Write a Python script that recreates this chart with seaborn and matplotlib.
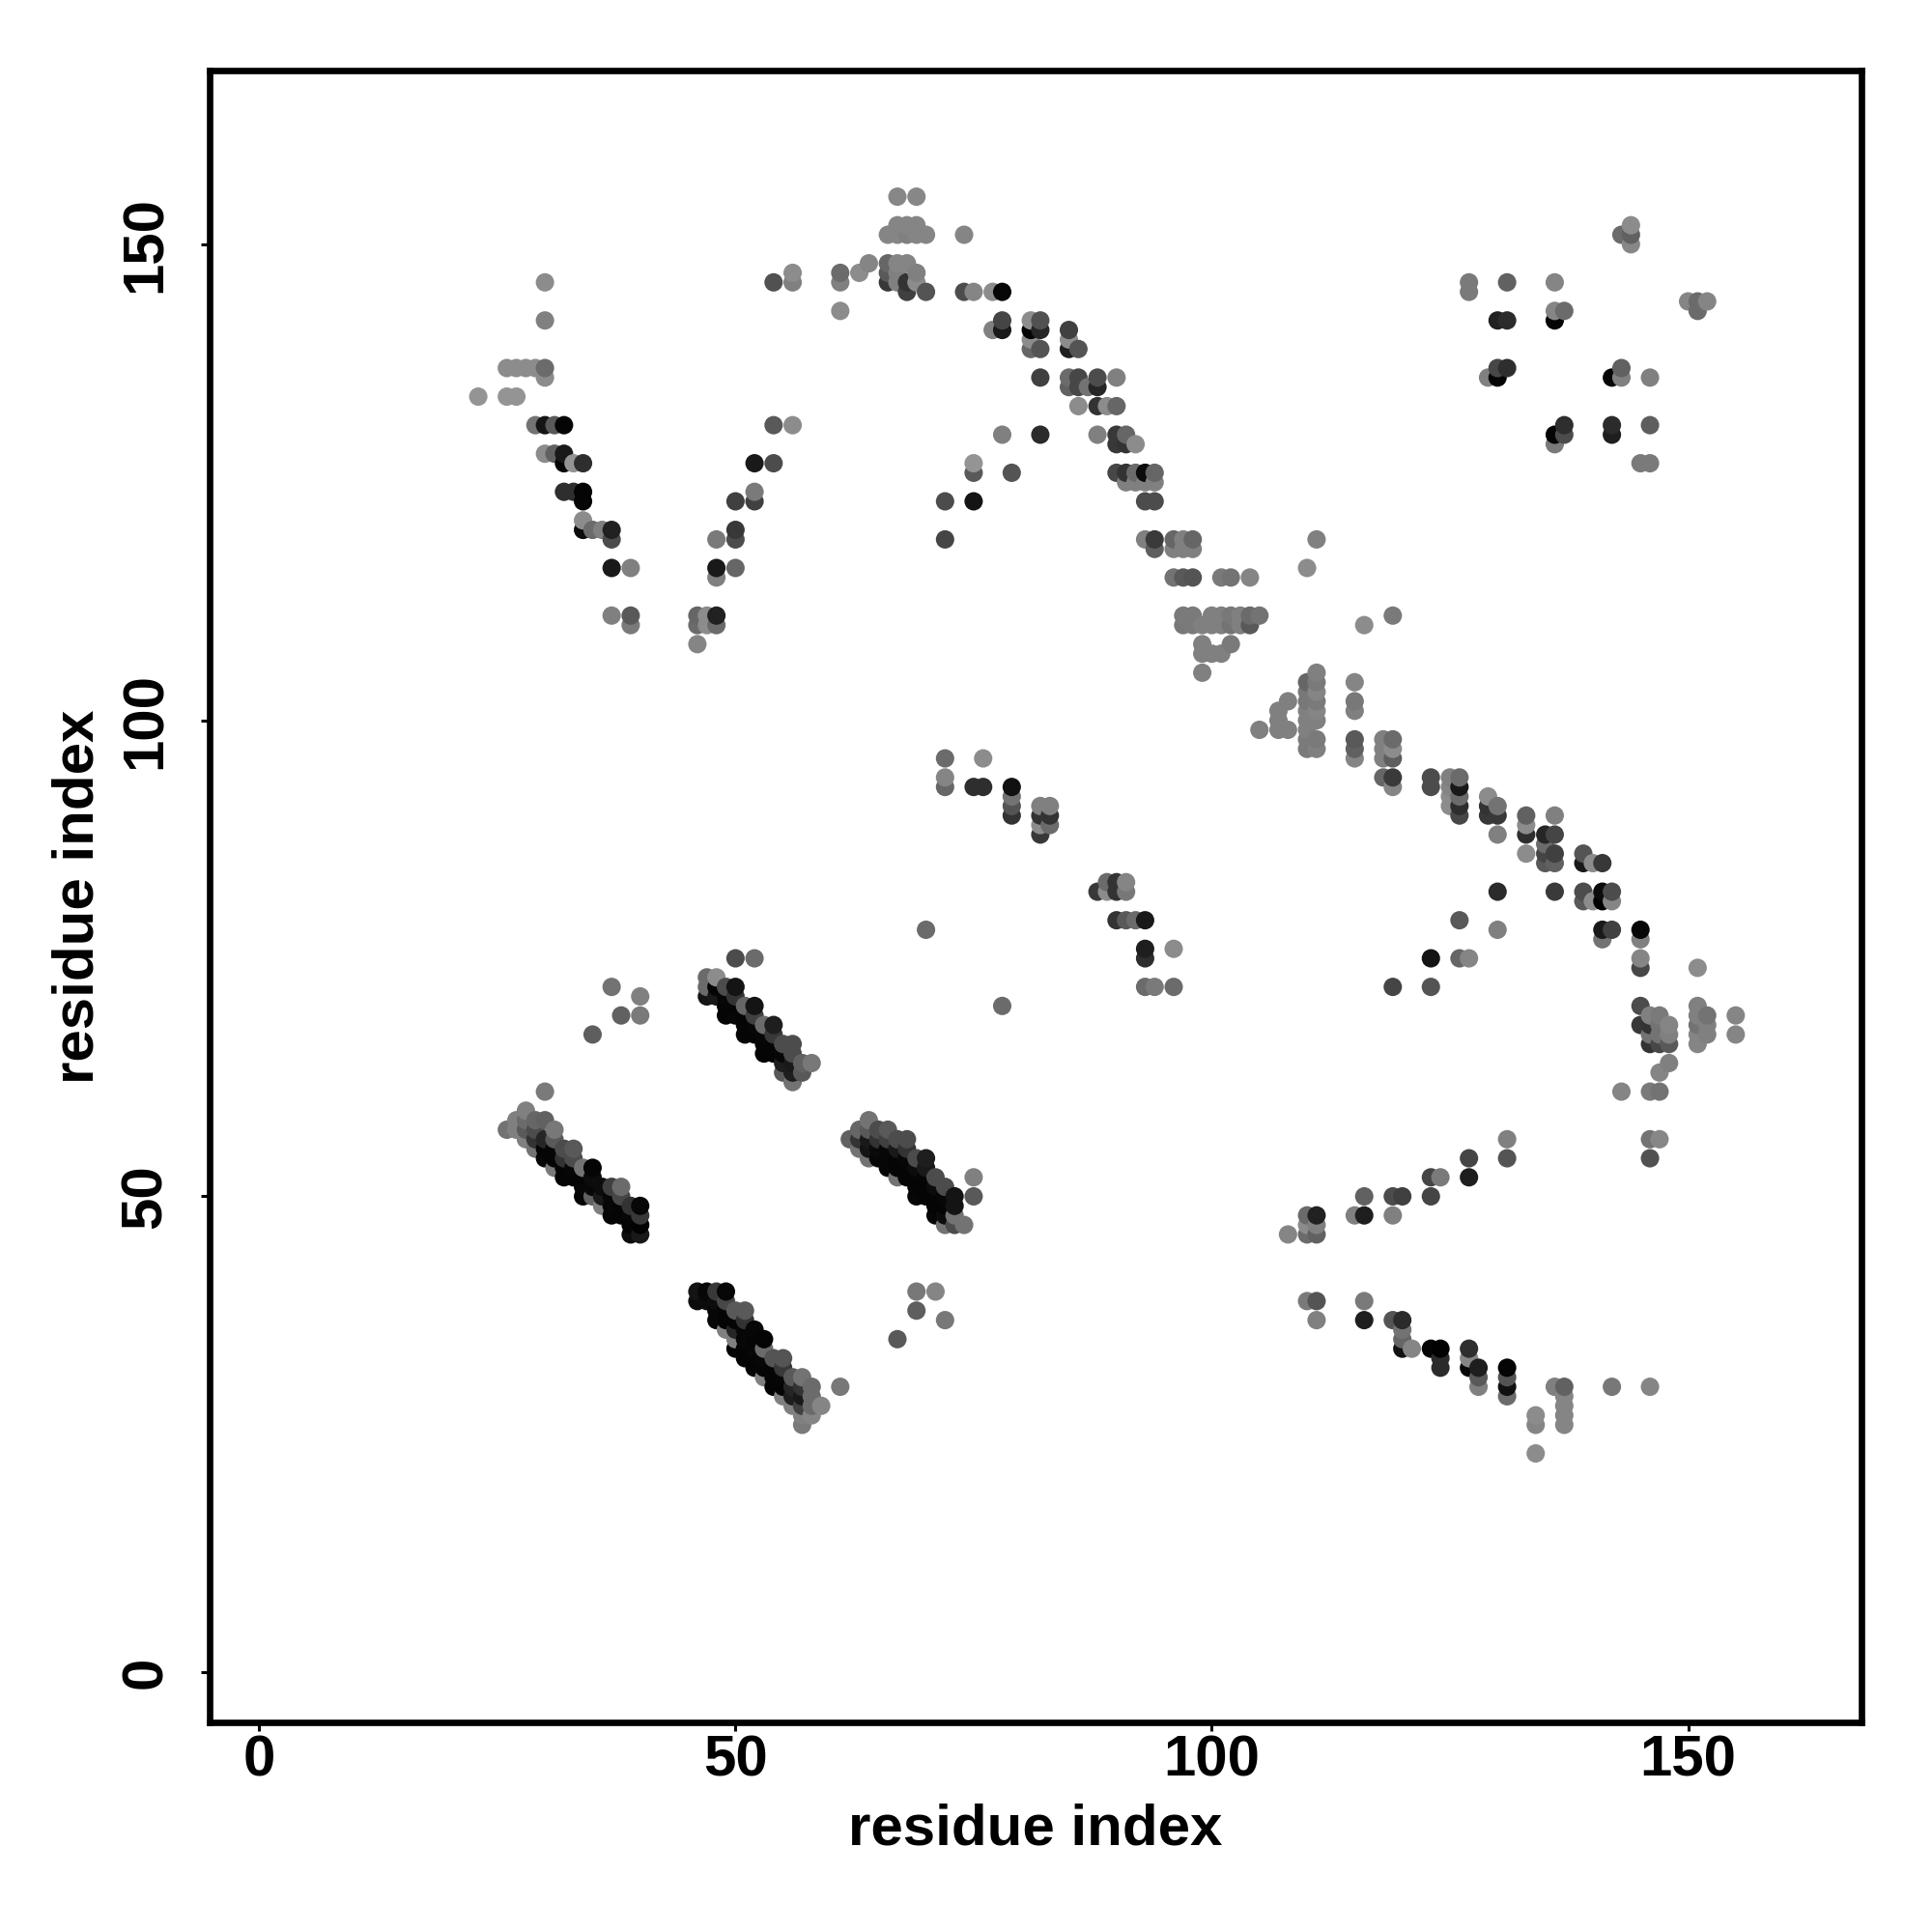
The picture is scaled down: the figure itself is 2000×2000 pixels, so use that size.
"""contact map, residue index vs residue index"""
import pandas as pd
import seaborn as sns
import matplotlib.pyplot as plt

# (residue x, residue y, grey level)
arm_left = [
    (23,134,.58),(26,137,.55),(27,137,.55),(28,137,.55),(29,137,.55),(30,137,.42),(30,136,.55),
    (30,146,.55),(30,142,.5),(26,134,.58),(27,134,.58),
    (29,131,.45),(30,131,.08),(31,131,.35),(32,131,.02),
    (30,128,.55),(31,128,.38),(32,128,.1),(32,127,.02),(33,127,.58),(34,127,.18),
    (32,124,.18),(33,124,.18),(34,124,.02),(34,123,.02),(34,121,.55),(34,120,.05),
    (35,120,.42),(36,120,.5),(37,120,.13),(37,119,.3),(37,116,.1),(39,116,.5),
    (37,111,.5),(39,111,.35),(39,110,.48),
]
arm_right = [
    (46,111,.4),(47,111,.55),(48,111,.13),(46,110,.42),(47,110,.55),(48,110,.42),(46,108,.52),
    (48,115,.5),(48,116,.1),(50,116,.4),(48,119,.48),(50,119,.3),(50,120,.22),
    (50,123,.25),(52,123,.25),(52,124,.48),(52,127,.1),(54,127,.3),(54,131,.35),(56,131,.55),
    (54,146,.32),(56,146,.5),(56,147,.55),(61,146,.5),(61,147,.42),(61,143,.55),
    (63,147,.55),(64,148,.52),(72,123,.3),(72,119,.27),(75,123,.08),(75,126,.35),(75,127,.58),
    (79,126,.33),(78,130,.5),(82,130,.17),
]
top_peak = [
    (67,155,.53),(69,155,.53),(67,152,.52),(68,152,.52),(69,152,.52),
    (66,151,.52),(67,151,.52),(68,151,.5),(69,151,.52),(70,151,.52),(74,151,.52),
    (66,148,.4),(67,148,.52),(68,148,.52),(66,147,.35),(67,147,.5),(69,147,.5),
    (66,146,.22),(67,146,.5),(68,146,.2),(69,146,.55),(68,145,.25),(70,145,.33),
    (74,145,.3),(75,145,.52),(77,145,.55),(78,145,.03),
]
long_strand = [
    (78,142,.27),(81,142,.55),(82,142,.32),(77,141,.5),(78,141,.1),(81,141,.02),(82,141,.15),(85,141,.25),
    (81,140,.55),(85,140,.55),(81,139,.4),(82,139,.33),(85,139,.12),(86,139,.33),
    (82,136,.25),(85,136,.42),(86,136,.28),(88,136,.3),(90,136,.5),
    (85,135,.38),(86,135,.28),(87,135,.45),(88,135,.15),
    (86,133,.55),(88,133,.2),(89,133,.55),(90,133,.4),
    (88,130,.5),(90,130,.22),(91,130,.4),(90,129,.22),(91,129,.2),(92,129,.55),
    (90,126,.28),(91,126,.2),(92,126,.42),(93,126,.05),(94,126,.4),
    (91,125,.5),(92,125,.5),(93,125,.5),(94,125,.5),(93,123,.3),(94,123,.3),
    (93,119,.5),(94,119,.23),(96,119,.4),(97,119,.5),(98,119,.4),
    (94,118,.37),(96,118,.5),(97,118,.5),(98,118,.5),
    (96,115,.45),(97,115,.35),(98,115,.33),(101,115,.48),(102,115,.45),(104,115,.52),
    (97,111,.48),(98,111,.48),(100,111,.5),(101,111,.5),(102,111,.47),(103,111,.5),(104,111,.42),(105,111,.45),
    (97,110,.47),(98,110,.48),(99,110,.5),(100,110,.5),(101,110,.5),(102,110,.45),(103,110,.5),(104,110,.35),
    (99,108,.5),(102,108,.48),(99,107,.5),(100,107,.5),(101,107,.5),(99,105,.5),
    (111,119,.5),(110,116,.55),(119,111,.48),(116,110,.55),
]
mid_strand = [
    (111,105,.5),(110,104,.4),(111,104,.48),(115,104,.52),(110,103,.47),(111,103,.52),
    (108,102,.5),(110,102,.47),(111,102,.48),(115,102,.47),(107,101,.5),(110,101,.5),(111,101,.52),(115,101,.5),
    (107,100,.5),(110,100,.5),(111,100,.5),(105,99,.5),(107,99,.5),(108,99,.5),(110,99,.5),
    (110,98,.48),(111,98,.48),(115,98,.35),(118,98,.5),(119,98,.42),
    (110,97,.48),(111,97,.5),(115,97,.38),(118,97,.5),(119,97,.55),(115,96,.52),(118,96,.5),(119,96,.37),
    (118,94,.4),(119,94,.23),(123,94,.3),(125,94,.5),(126,94,.42),(119,93,.52),(123,93,.3),(125,93,.52),(126,93,.1),
    (125,92,.55),(126,92,.42),(129,92,.55),(125,91,.55),(126,91,.18),(129,91,.2),(130,91,.45),
    (126,90,.28),(129,90,.22),(130,90,.22),(133,90,.38),(136,90,.5),(133,89,.55),
    (130,88,.5),(133,88,.18),(135,88,.15),(136,88,.27),(135,87,.42),
    (133,86,.55),(135,86,.27),(136,86,.25),(139,86,.33),
    (135,85,.35),(136,85,.38),(139,85,.1),(140,85,.55),(141,85,.22),
    (130,82,.17),(136,82,.23),(139,82,.3),(141,82,.05),(142,82,.3),
    (139,81,.35),(140,81,.55),(141,81,.0),(142,81,.52),
    (126,79,.35),(130,78,.5),(141,78,.1),(142,78,.25),(145,78,.03),(141,77,.45),(145,77,.5),
    (123,75,.08),(126,75,.4),(127,75,.52),(145,75,.52),(145,74,.28),(151,74,.55),(119,72,.27),(123,72,.33),
]
cluster_low_right = [
    (145,70,.3),(145,68,.22),(146,69,.5),(147,69,.48),(146,68,.2),(147,68,.45),(148,68,.52),
    (146,67,.45),(147,67,.45),(148,67,.5),(146,66,.2),(147,66,.28),(148,66,.35),
    (148,64,.5),(147,63,.52),(143,61,.52),(146,61,.48),(147,61,.45),
    (151,70,.5),(151,69,.5),(152,69,.45),(151,68,.45),(152,68,.5),(151,67,.52),(152,67,.5),(151,66,.52),
    (155,69,.52),(155,67,.52),
]
low_arcs = [
    (131,56,.5),(146,56,.45),(147,56,.53),(127,54,.27),(131,54,.33),(146,54,.32),
    (123,52,.27),(124,52,.48),(127,52,.12),(116,50,.38),(119,50,.3),(120,50,.25),(123,50,.27),
    (110,48,.42),(111,48,.13),(115,48,.5),(116,48,.12),(119,48,.5),(110,47,.55),(111,47,.5),
    (108,46,.52),(110,46,.42),(111,46,.38),
    (110,39,.48),(111,39,.33),(116,39,.48),(111,37,.5),(116,37,.12),(119,37,.33),(120,37,.17),
    (120,36,.45),(120,35,.4),(120,34,.07),(121,34,.52),(123,34,.02),(124,34,.01),(124,33,.17),(124,32,.17),
    (127,34,.18),(127,33,.52),(127,32,.03),(128,32,.12),(128,31,.35),(128,30,.5),
    (131,32,.02),(131,31,.33),(131,30,.07),(131,29,.42),
    (136,30,.5),(137,30,.38),(137,29,.52),(137,28,.52),(137,27,.52),(137,26,.52),
    (134,27,.55),(134,26,.52),(134,23,.55),(142,30,.47),(146,30,.52),
]
top_right = [
    (127,146,.48),(127,145,.48),(131,146,.38),(136,146,.52),(136,143,.52),(137,143,.42),(136,142,.02),
    (130,142,.13),(131,142,.17),(129,136,.5),(130,136,.02),(130,137,.28),(131,137,.18),
    (142,136,.02),(143,136,.5),(143,137,.38),(146,136,.5),
    (143,151,.42),(144,150,.53),(144,151,.38),(144,152,.55),
    (150,144,.52),(151,144,.42),(152,144,.52),(151,143,.42),
    (137,131,.18),(136,130,.02),(137,130,.3),(136,129,.48),(142,131,.17),(142,130,.12),(146,131,.37),
    (145,127,.48),(146,127,.48),
]
middle_patch = [
    (72,96,.42),(76,96,.55),(72,94,.52),(72,93,.4),(75,93,.18),(76,93,.18),
    (79,93,.07),(79,92,.45),(79,91,.33),(79,90,.2),(82,91,.5),(83,91,.5),(82,90,.2),(83,90,.2),
    (82,89,.55),(83,89,.42),(82,88,.22),
    (88,82,.22),(89,83,.42),(89,82,.55),(90,83,.2),(90,82,.2),(91,83,.52),(91,82,.47),
    (90,79,.2),(91,79,.35),(92,79,.42),(93,79,.1),(93,76,.12),(93,75,.18),(96,76,.55),
    (93,72,.42),(94,72,.48),(96,72,.42),(70,78,.42),(78,70,.42),
]
diag_a = [
    (26,57,.45),(27,58,.5),(27,57,.5),(28,59,.5),(28,58,.42),(28,57,.35),(28,56,.5),(29,58,.4),(29,57,.3),(29,56,.2),(29,55,.45),
    (30,58,.38),(30,56,.15),(30,55,.02),(30,54,.03),(31,57,.47),(31,56,.35),(31,55,.02),(31,54,.02),(31,53,.48),
    (32,55,.3),(32,54,.2),(32,53,.02),(32,52,.02),(33,55,.35),(33,54,.3),(33,53,.03),(33,52,.02),
    (34,53,.45),(34,52,.02),(34,51,.03),(34,50,.02),(35,53,.02),(35,52,.05),(35,51,.03),(35,50,.38),
    (36,51,.05),(36,50,.1),(36,49,.5),(37,51,.25),(37,50,.03),(37,49,.03),(37,48,.02),
    (38,51,.42),(38,50,.28),(38,49,.02),(38,48,.02),(39,49,.2),(39,48,.03),(39,47,.02),(39,46,.05),
    (40,49,.03),(40,48,.22),(40,47,.01),(40,46,.1),
]
diag_b = [
    (46,40,.08),(47,40,.03),(48,40,.22),(49,40,.03),(46,39,.05),(47,39,.05),(48,39,.05),(49,39,.28),
    (48,38,.03),(49,38,.02),(50,38,.35),(51,38,.35),(48,37,.03),(49,37,.02),(50,37,.02),(51,37,.2),
    (49,36,.5),(50,36,.15),(51,36,.03),(52,36,.03),(50,35,.5),(51,35,.03),(52,35,.02),(53,35,.02),
    (50,34,.02),(51,34,.02),(52,34,.03),(53,34,.42),(51,33,.02),(52,33,.02),(53,33,.03),(54,33,.33),(55,33,.33),
    (52,32,.02),(53,32,.02),(54,32,.02),(55,32,.22),(53,31,.5),(54,31,.02),(55,31,.03),(56,31,.35),(57,31,.45),
    (54,30,.02),(55,30,.02),(56,30,.15),(57,30,.2),(58,30,.42),(61,30,.47),
    (55,29,.5),(56,29,.12),(57,29,.1),(58,29,.42),(56,28,.5),(57,28,.25),(58,28,.42),(59,28,.52),
    (57,27,.5),(58,27,.52),(57,26,.48),
]
diag_c = [
    (47,73,.42),(48,73,.55),(47,72,.42),(47,71,.08),(48,72,.02),(49,72,.3),(50,72,.08),(48,71,.1),(49,71,.03),(50,71,.2),
    (49,70,.02),(50,70,.02),(51,70,.4),(52,70,.08),(49,69,.02),(50,69,.03),(51,69,.02),(52,69,.25),
    (51,68,.02),(52,68,.03),(53,68,.42),(54,68,.12),(51,67,.02),(52,67,.02),(53,67,.03),(54,67,.22),
    (53,66,.02),(54,66,.02),(55,66,.3),(56,66,.3),(53,65,.02),(54,65,.02),(55,65,.03),(56,65,.3),
    (55,64,.12),(56,64,.1),(57,64,.38),(58,64,.47),(55,63,.35),(56,63,.12),(57,63,.35),(56,62,.45),
    (50,75,.3),(52,75,.42),
]
diag_d = [
    (62,56,.38),(63,57,.4),(63,56,.2),(63,55,.45),(64,58,.45),(64,57,.35),(64,56,.1),(64,55,.08),(64,54,.45),
    (65,57,.3),(65,56,.2),(65,55,.04),(65,54,.03),(66,57,.35),(66,56,.25),(66,55,.03),(66,54,.03),(66,53,.03),
    (67,56,.3),(67,55,.1),(67,54,.02),(67,53,.02),(67,52,.45),(68,56,.3),(68,55,.2),(68,54,.03),(68,53,.02),(68,52,.02),
    (69,54,.3),(69,53,.05),(69,52,.02),(69,51,.02),(69,50,.03),(70,54,.12),(70,53,.1),(70,52,.02),(70,51,.02),(70,50,.02),
    (71,52,.3),(71,51,.05),(71,50,.02),(71,49,.02),(71,48,.03),(72,51,.3),(72,50,.03),(72,49,.02),(72,48,.05),(72,47,.45),
    (73,50,.08),(73,49,.08),(73,48,.45),(73,47,.3),(74,47,.45),(75,52,.5),(75,50,.35),
]
scattered = [
    (37,72,.45),(40,71,.5),(38,69,.38),(40,69,.48),(35,67,.37),(30,61,.48),
    (69,40,.47),(71,40,.52),(69,38,.37),(72,37,.47),(67,35,.35),
]
tick_values = [0, 50, 100, 150]

groups = [arm_left, arm_right, top_peak, long_strand, mid_strand, cluster_low_right, low_arcs,
          top_right, middle_patch, diag_a, diag_b, diag_c, diag_d, scattered]
df = pd.DataFrame([p for g in groups for p in g], columns=["i", "j", "shade"])
df = df.drop_duplicates(["i", "j"]).sort_values(["i", "j"])

sns.set_theme(style="white")
plt.rcParams["font.family"] = ["Liberation Sans", "DejaVu Sans"]

fig = plt.figure(figsize=(10, 10), dpi=200)
ax = fig.add_axes([0.1085, 0.1085, 0.855, 0.855])
sns.scatterplot(data=df, x="i", y="j", hue="shade", palette="gray", hue_norm=(0, 1),
                s=47, linewidth=0, legend=False, ax=ax)

ax.set_xlim(-5.2, 168.2)
ax.set_ylim(-5.25, 168.25)
ax.set_xticks(tick_values)
ax.set_yticks(tick_values)
ax.tick_params(axis="both", length=3.2, width=1.1, color="black", labelsize=21.6, labelcolor="black", bottom=True, left=True)
ax.tick_params(axis="x", pad=1.2)
ax.tick_params(axis="y", pad=10.5)
for lab in ax.get_xticklabels() + ax.get_yticklabels():
    lab.set_fontweight("bold")
for lab in ax.get_yticklabels():
    lab.set_rotation(90)
    lab.set_va("center")
for spine in ax.spines.values():
    spine.set_linewidth(2.4)
    spine.set_color("black")

ax.set_xlabel("residue index", fontsize=21.6, fontweight="bold", color="black", labelpad=6)
ax.set_ylabel("residue index", fontsize=21.6, fontweight="bold", color="black", labelpad=5.5)

plt.savefig("out.png", dpi=200)
